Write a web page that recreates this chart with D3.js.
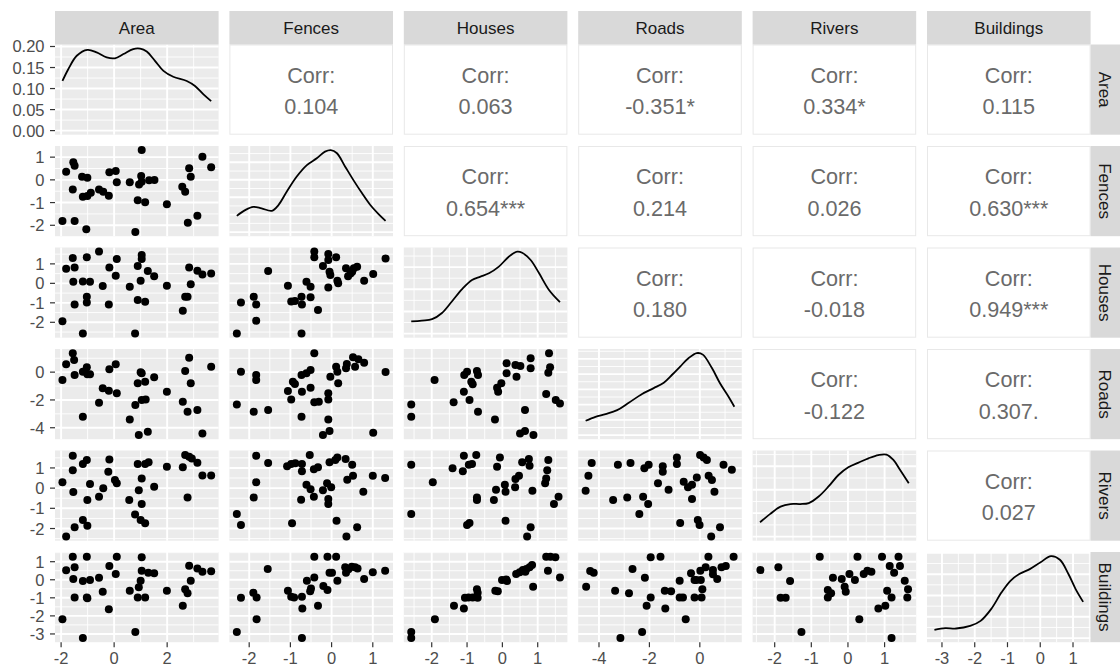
<!DOCTYPE html>
<html>
<head>
<meta charset="utf-8">
<script src="https://cdn.jsdelivr.net/npm/d3@7"></script>
<style>
    body { margin: 0; background: #ffffff; }
    svg { display: block; }
    text { font-family: "Liberation Sans", Arial, Helvetica, sans-serif; }
</style>
</head>
<body>
<div id="chart"></div>
<script>
/*
----------------------------------------------------
    Data
----------------------------------------------------
*/
const varNames = ["Area", "Fences", "Houses", "Roads", "Rivers", "Buildings"];
const varMin = [-1.95, -2.30, -2.58, -4.53, -2.40, -3.23];
const varMax = [3.66, 1.31, 1.63, 1.37, 1.66, 1.31];
const varBreaks = [[-2, 0, 2], [-2, -1, 0, 1], [-2, -1, 0, 1], [-4, -2, 0], [-2, -1, 0, 1], [-3, -2, -1, 0, 1]];
const areaDensityBreaks = [0, 0.05, 0.10, 0.15, 0.20];

// correlation labels of the upper panels: [row, col, label]
const corrLabels = [
    [0, 1, "0.104"], [0, 2, "0.063"], [0, 3, "-0.351*"], [0, 4, "0.334*"], [0, 5, "0.115"],
    [1, 2, "0.654***"], [1, 3, "0.214"], [1, 4, "0.026"], [1, 5, "0.630***"],
    [2, 3, "0.180"], [2, 4, "-0.018"], [2, 5, "0.949***"],
    [3, 4, "-0.122"], [3, 5, "0.307."],
    [4, 5, "0.027"]
];

// diagonal densities: [value, density]
const densityArea = [[-1.95, 0.118], [-1.73, 0.146], [-1.41, 0.178], [-1.01, 0.192], [-0.66, 0.186], [-0.28, 0.174], [0.03, 0.172], [0.35, 0.182], [0.72, 0.194], [0.98, 0.195], [1.23, 0.188], [1.54, 0.166], [1.86, 0.142], [2.23, 0.128], [2.74, 0.118], [3.05, 0.106], [3.37, 0.086], [3.66, 0.070]];
const densityFences = [[-2.30, 0.093], [-2.10, 0.126], [-1.90, 0.145], [-1.70, 0.136], [-1.45, 0.122], [-1.29, 0.155], [-1.09, 0.231], [-0.85, 0.317], [-0.60, 0.384], [-0.36, 0.423], [-0.16, 0.461], [-0.02, 0.470], [0.13, 0.452], [0.33, 0.375], [0.53, 0.298], [0.74, 0.222], [0.94, 0.155], [1.14, 0.103], [1.31, 0.064]];
const densityHouses = [[-2.58, 0.055], [-2.28, 0.059], [-1.99, 0.065], [-1.71, 0.093], [-1.43, 0.145], [-1.14, 0.201], [-0.86, 0.242], [-0.62, 0.257], [-0.38, 0.272], [-0.10, 0.302], [0.18, 0.347], [0.42, 0.370], [0.56, 0.365], [0.80, 0.332], [1.04, 0.272], [1.32, 0.197], [1.63, 0.142]];
const densityRoads = [[-4.53, 0.047], [-4.14, 0.060], [-3.74, 0.069], [-3.28, 0.082], [-2.82, 0.106], [-2.29, 0.135], [-1.83, 0.154], [-1.43, 0.172], [-1.10, 0.198], [-0.78, 0.225], [-0.44, 0.253], [-0.12, 0.269], [0.12, 0.264], [0.48, 0.220], [0.80, 0.170], [1.14, 0.126], [1.37, 0.093]];
const densityRivers = [[-2.40, 0.061], [-2.12, 0.097], [-1.84, 0.128], [-1.57, 0.139], [-1.30, 0.139], [-1.07, 0.143], [-0.80, 0.171], [-0.53, 0.214], [-0.26, 0.263], [0.01, 0.296], [0.29, 0.316], [0.56, 0.334], [0.83, 0.348], [1.05, 0.350], [1.24, 0.327], [1.42, 0.285], [1.66, 0.228]];
const densityBuildings = [[-3.23, 0.039], [-2.90, 0.047], [-2.57, 0.045], [-2.14, 0.057], [-1.82, 0.081], [-1.50, 0.136], [-1.18, 0.215], [-0.91, 0.269], [-0.64, 0.301], [-0.32, 0.324], [0.01, 0.356], [0.33, 0.385], [0.60, 0.368], [0.86, 0.301], [1.08, 0.230], [1.31, 0.170]];

// lower panels: [x value, y value]
const fencesArea = [[-1.95, -1.81], [-1.81, 0.36], [-1.54, 0.77], [-1.49, 0.62], [-1.49, -1.81], [-1.56, -0.42], [-1.21, 0.14], [-1.01, 0.09], [-1.18, -0.74], [-1.01, -0.71], [-0.88, -0.57], [-1.05, -2.18], [-0.57, -0.42], [-0.41, -0.52], [-0.20, -0.70], [-0.18, 0.33], [0.06, 0.39], [0.10, -0.11], [0.59, -0.11], [0.80, -2.30], [1.04, 1.31], [1.02, 0.17], [0.94, -0.20], [0.89, -0.90], [1.17, -0.99], [1.32, -0.02], [1.52, -0.01], [1.04, -0.08], [1.99, -1.07], [2.57, -0.30], [2.68, -0.52], [2.78, -1.89], [2.83, 0.51], [2.89, 0.14], [3.14, -1.58], [3.33, 1.02], [3.66, 0.55]];
const housesArea = [[-1.95, -1.94], [-1.81, 0.75], [-1.56, 1.30], [-1.49, 0.82], [-1.54, 0.08], [-1.49, -1.08], [-1.18, 0.10], [-1.03, 1.34], [-0.91, 0.08], [-1.03, -0.69], [-1.03, -0.98], [-0.57, 1.63], [-0.43, -0.14], [-0.20, -1.08], [-0.18, 0.82], [0.06, 0.39], [0.10, 1.25], [0.59, -0.18], [0.89, 0.89], [1.00, 0.13], [1.04, 1.45], [1.04, 1.25], [0.89, -0.86], [1.17, -0.95], [1.27, 0.63], [1.51, 0.37], [1.99, -0.12], [2.59, -1.41], [2.68, -0.69], [2.77, -0.69], [2.83, 0.82], [2.89, -0.04], [3.14, 0.65], [3.33, 0.46], [3.66, 0.51], [-1.18, -2.58], [0.79, -2.58]];
const roadsArea = [[-1.95, -0.57], [-1.81, 0.57], [-1.56, 1.36], [-1.51, 0.88], [-1.49, -0.20], [-1.18, -3.21], [-1.18, 0.03], [-1.03, 0.35], [-1.01, -0.15], [-0.91, -0.15], [-0.57, -2.20], [-0.43, -1.16], [-0.20, -1.34], [-0.18, 0.21], [0.06, 0.57], [0.10, -1.52], [0.59, -3.40], [0.80, -2.37], [0.89, -0.80], [1.00, -0.01], [1.04, -0.08], [1.17, -0.69], [1.04, -2.01], [1.19, -1.96], [0.93, -4.53], [1.27, -4.29], [1.51, -0.37], [1.99, -1.41], [2.59, -2.13], [2.68, 0.08], [2.77, -2.85], [2.83, 1.04], [2.89, -0.80], [3.14, -2.73], [3.33, -4.41], [3.66, 0.39]];
const riversArea = [[-1.56, 1.60], [-1.03, 1.39], [-1.18, 1.19], [-1.56, 0.89], [-1.95, 0.29], [-0.91, 0.20], [-0.18, 1.42], [-0.22, 0.81], [0.03, 0.40], [0.10, 0.24], [0.89, 1.19], [1.17, 1.19], [1.30, 1.28], [1.04, 0.48], [1.99, 1.06], [2.68, 1.64], [2.83, 1.55], [2.93, 1.47], [2.59, 1.03], [3.14, 1.26], [3.33, 0.63], [3.66, 0.63], [-0.41, -0.01], [0.93, -0.10], [1.51, 0.07], [-1.54, -0.19], [-0.57, -0.43], [-1.01, -0.59], [0.57, -0.59], [1.04, -0.79], [0.79, -1.30], [1.00, -1.58], [1.17, -1.74], [2.77, -0.46], [-1.18, -1.58], [-1.01, -1.86], [-1.49, -1.94], [-1.81, -2.40]];
const buildingsArea = [[-1.95, -2.18], [-1.81, 0.52], [-1.56, 1.28], [-1.49, 0.69], [-1.54, 0.04], [-1.49, -0.98], [-1.18, -3.23], [-1.03, 1.28], [-1.18, -0.07], [-0.91, -0.02], [-1.03, -0.98], [-1.01, -1.03], [-0.57, 0.11], [-0.43, -0.67], [-0.20, -1.63], [-0.18, 0.76], [0.06, 0.32], [0.10, 1.28], [0.59, -0.61], [0.80, -2.89], [0.89, -0.98], [0.93, -0.42], [1.00, -0.05], [1.04, 1.25], [1.04, 0.50], [1.17, -0.98], [1.29, 0.39], [1.51, 0.36], [1.99, -0.61], [2.59, -1.44], [2.68, -0.53], [2.77, -0.75], [2.83, 0.78], [2.89, -0.05], [3.14, 0.63], [3.33, 0.45], [3.66, 0.47]];
const housesFences = [[-2.30, -2.58], [-2.20, -0.98], [-1.89, -0.69], [-1.83, -1.08], [-1.83, -1.92], [-1.54, 0.63], [-1.06, -0.12], [-0.98, -0.93], [-0.89, -0.90], [-0.73, -0.69], [-0.72, -1.08], [-0.73, -2.58], [-0.61, 0.08], [-0.51, -0.18], [-0.51, -0.72], [-0.33, -1.37], [-0.42, 1.63], [-0.42, 1.34], [-0.21, 0.89], [-0.08, 1.51], [-0.08, 1.20], [0.11, 1.34], [-0.05, 0.60], [-0.03, 0.43], [0.14, 0.13], [0.16, 0.00], [-0.08, -0.21], [0.35, 0.77], [0.46, 0.51], [0.54, 0.77], [0.62, 0.85], [0.40, 0.37], [0.79, 0.13], [1.01, 0.48], [1.31, 1.28], [0.50, 0.60]];
const roadsFences = [[-2.30, -2.32], [-2.20, 0.03], [-1.89, -2.85], [-1.83, -0.20], [-1.83, -0.57], [-1.54, -2.73], [-1.06, -1.36], [-0.98, -1.96], [-0.94, -0.69], [-0.89, -0.85], [-0.73, -0.20], [-0.72, -1.41], [-0.73, -3.21], [-0.61, -0.08], [-0.51, 0.16], [-0.51, -1.12], [-0.42, 1.36], [-0.42, -2.17], [-0.31, -2.13], [-0.08, -1.52], [-0.08, -1.96], [-0.08, -3.40], [-0.21, -4.53], [-0.05, -4.24], [-0.03, -0.33], [0.11, 0.39], [0.14, 0.03], [0.16, -0.80], [0.35, 0.28], [0.37, 0.59], [0.52, 1.07], [0.57, 0.39], [0.65, 0.93], [0.79, 0.68], [1.01, -4.36], [1.31, 0.01]];
const riversFences = [[-2.30, -1.28], [-2.20, -1.83], [-1.89, -0.46], [-1.83, 0.29], [-1.83, 1.60], [-1.54, 1.24], [-1.08, 1.08], [-0.98, 1.19], [-0.88, 1.23], [-0.72, 1.19], [-0.72, 0.83], [-0.96, -1.74], [-0.74, -0.58], [-0.61, 0.17], [-0.53, 1.64], [-0.51, -0.05], [-0.43, 0.94], [-0.33, 1.03], [-0.43, -0.43], [-0.21, -0.10], [-0.11, 0.24], [-0.01, 0.04], [-0.08, -0.54], [-0.08, -0.79], [-0.05, 1.28], [0.09, 1.39], [0.14, 1.52], [0.34, 1.44], [0.50, 1.16], [0.38, 0.41], [0.52, 0.61], [0.12, -1.62], [0.36, -2.40], [0.62, -1.94], [0.77, -0.18], [1.00, 0.61], [1.30, 0.50]];
const buildingsFences = [[-2.30, -2.89], [-2.20, -1.00], [-1.90, -0.72], [-1.82, -0.98], [-1.82, -2.18], [-1.55, 0.60], [-1.06, -0.61], [-0.98, -0.94], [-0.91, -0.98], [-0.72, -0.94], [-0.71, -1.59], [-0.72, -3.23], [-0.60, -0.05], [-0.50, -0.48], [-0.52, -0.63], [-0.42, 0.13], [-0.42, 1.28], [-0.33, -1.44], [-0.20, -0.35], [-0.10, 1.28], [0.11, 1.28], [-0.10, -0.57], [-0.05, 0.39], [0.01, 0.39], [0.14, -0.05], [0.33, 0.69], [0.35, 0.39], [0.41, 0.58], [0.49, 0.72], [0.57, 0.69], [0.63, 0.63], [0.79, 0.04], [1.00, 0.41], [1.30, 0.50]];
const roadsHouses = [[-2.58, -2.32], [-2.58, -3.21], [-1.92, -0.57], [-1.38, -2.17], [-1.08, -0.20], [-1.00, 0.03], [-0.88, -0.69], [-0.84, -0.88], [-1.09, -1.41], [-0.93, -2.01], [-0.72, 0.08], [-0.69, -0.20], [-0.69, -2.85], [-0.21, -3.40], [-0.15, -1.12], [-0.12, -1.41], [-0.03, -0.80], [0.12, 0.64], [0.12, -0.08], [0.37, 0.52], [0.40, -0.33], [0.51, 0.44], [0.80, 1.00], [0.80, 0.28], [0.64, -2.73], [0.50, -4.41], [0.64, -4.24], [0.88, -4.53], [1.32, 1.36], [1.35, 0.35], [1.30, -0.04], [1.24, -1.57], [1.51, -2.01], [1.63, -2.25]];
const riversHouses = [[-2.58, 1.16], [-2.58, -1.28], [-1.97, 0.29], [-1.41, 0.99], [-1.12, 0.83], [-1.09, 1.60], [-0.95, 1.16], [-0.86, 1.19], [-0.74, 1.64], [-1.00, -1.83], [-0.93, -1.73], [-0.72, -0.46], [-0.72, -0.59], [-0.24, -0.59], [-0.18, -0.08], [-0.15, 1.06], [-0.07, 1.52], [0.07, 0.17], [0.09, -0.18], [0.09, -1.62], [0.36, 0.04], [0.37, 0.45], [0.47, 0.61], [0.56, 1.28], [0.75, 1.44], [0.77, 1.11], [0.85, -0.13], [0.80, -1.94], [0.70, -2.40], [1.21, 0.24], [1.24, 0.48], [1.27, 0.89], [1.30, 1.39], [1.59, -0.43], [1.46, -0.79]];
const buildingsHouses = [[-2.58, -2.89], [-2.58, -3.23], [-1.91, -2.18], [-1.37, -1.44], [-1.09, -1.59], [-1.06, -1.00], [-0.96, -0.98], [-0.84, -0.98], [-0.72, -0.53], [-0.70, -0.72], [-0.70, -1.00], [-0.20, -0.61], [-0.13, -0.63], [-0.01, -0.02], [0.11, 0.02], [0.13, -0.07], [0.39, 0.32], [0.49, 0.41], [0.58, 0.54], [0.68, 0.60], [0.77, 0.69], [0.84, 0.82], [0.87, -0.39], [1.24, 1.28], [1.36, 1.28], [1.50, 1.25], [1.29, 0.50], [1.63, 0.13], [0.65, 0.45]];
const riversRoads = [[-4.53, -0.13], [-4.42, 0.61], [-4.29, 1.24], [-3.44, -0.59], [-3.25, 1.16], [-2.88, -0.46], [-2.75, 1.24], [-2.40, -1.28], [-2.25, -0.43], [-2.05, -0.79], [-2.20, 0.99], [-2.03, 1.16], [-1.66, 0.24], [-1.47, 1.08], [-1.47, 0.81], [-1.24, -0.08], [-0.91, 1.52], [-0.91, 1.19], [-0.78, -1.73], [-0.64, 0.32], [-0.47, 0.04], [-0.31, -0.54], [-0.31, 0.17], [-0.12, 0.53], [-0.08, -1.58], [-0.01, -1.83], [0.01, 1.64], [0.15, 1.52], [0.28, 1.39], [0.35, 0.61], [0.48, 0.40], [0.58, -0.18], [0.45, -2.40], [0.80, -1.94], [0.94, 1.16], [1.27, 0.91]];
const buildingsRoads = [[-4.51, -0.39], [-4.35, 0.48], [-4.21, 0.39], [-3.36, -0.61], [-2.81, -0.75], [-3.15, -3.23], [-2.67, 0.60], [-2.18, 0.11], [-2.11, -1.44], [-1.95, -0.98], [-1.95, 1.25], [-2.29, -2.89], [-1.56, 1.28], [-1.39, -0.61], [-1.37, -1.59], [-1.14, -0.63], [-0.80, -0.05], [-0.80, -0.98], [-0.67, -0.98], [-0.56, -2.18], [-0.35, 0.36], [-0.21, -0.02], [-0.14, -0.02], [0.04, -0.02], [-0.21, -0.98], [0.07, -0.98], [0.10, -0.53], [0.02, 0.50], [0.23, 0.69], [0.34, 1.28], [0.52, 0.54], [0.52, 0.30], [0.69, 0.04], [0.86, 0.69], [1.03, 0.76], [1.34, 1.28]];
const buildingsRivers = [[-2.39, 0.54], [-1.90, 0.69], [-1.58, -0.07], [-1.84, -1.00], [-1.70, -1.00], [-1.27, -2.89], [-0.77, 1.28], [-0.55, -0.57], [-0.55, -0.98], [-0.46, -0.75], [-0.41, 0.11], [-0.17, 0.04], [-0.09, -0.39], [-0.06, -0.67], [0.04, 0.32], [0.19, -0.02], [0.26, 1.28], [0.31, -2.18], [0.43, 0.32], [0.53, 0.50], [0.64, 0.45], [0.83, -1.59], [0.93, 1.28], [1.02, -1.44], [1.07, -0.61], [1.14, 0.76], [1.19, -0.98], [1.19, -3.23], [1.26, 0.39], [1.38, 1.28], [1.42, 0.76], [1.55, -0.05], [1.64, -0.53], [1.62, -0.98]];

const densityList = [densityArea, densityFences, densityHouses, densityRoads, densityRivers, densityBuildings];
const scatterPanels = [
    [1, 0, fencesArea], [2, 0, housesArea], [3, 0, roadsArea], [4, 0, riversArea], [5, 0, buildingsArea],
    [2, 1, housesFences], [3, 1, roadsFences], [4, 1, riversFences], [5, 1, buildingsFences],
    [3, 2, roadsHouses], [4, 2, riversHouses], [5, 2, buildingsHouses],
    [4, 3, riversRoads], [5, 3, buildingsRoads],
    [5, 4, buildingsRivers]
];

/*
----------------------------------------------------
    Layout
----------------------------------------------------
*/
const width = 1120, height = 671;
const left0 = 55, top0 = 44.5;
const panelW = 163.6, panelH = 90.2;
const stepX = 174.4, stepY = 101.5;
const stripH = 33.5, stripW = 30;

const colX = j => left0 + j * stepX;
const rowY = i => top0 + i * stepY;

// ggplot style 5% expansion of the data range
function expand(lo, hi) {
    const r = hi - lo;
    return [lo - 0.05 * r, hi + 0.05 * r];
}

// minor breaks half way between the major ones
function minorBreaks(breaks, domain) {
    const step = breaks[1] - breaks[0];
    const out = [];
    for (let k = -1; k <= breaks.length; k++) {
        const v = breaks[0] + (k + 0.5) * step;
        if (v >= domain[0] && v <= domain[1]) out.push(v);
    }
    return out;
}

const xScales = varNames.map((v, j) => d3.scaleLinear()
    .domain(expand(varMin[j], varMax[j]))
    .range([colX(j), colX(j) + panelW]));

const yScales = varNames.map((v, i) => d3.scaleLinear()
    .domain(expand(varMin[i], varMax[i]))
    .range([rowY(i) + panelH, rowY(i)]));

const densityScales = densityList.map((d, i) => {
    const M = d3.max(d, p => p[1]);
    return d3.scaleLinear().domain([-0.05 * M, 1.05 * M]).range([rowY(i) + panelH, rowY(i)]);
});

const svg = d3.select("#chart")
    .append("svg")
    .attr("width", width)
    .attr("height", height);

// Draw the grey panel with major and minor grid lines
function drawGrid(i, j, xs, ys, xMajor, yMajor) {
    const g = svg.append("g");
    const x0 = colX(j), y0 = rowY(i);
    g.append("rect")
        .attr("x", x0).attr("y", y0)
        .attr("width", panelW).attr("height", panelH)
        .attr("fill", "#EBEBEB");

    const xMinor = minorBreaks(xMajor, xs.domain());
    const yMinor = minorBreaks(yMajor, ys.domain());

    g.selectAll(".vminor").data(xMinor).enter().append("line")
        .attr("x1", d => xs(d)).attr("x2", d => xs(d))
        .attr("y1", y0).attr("y2", y0 + panelH)
        .attr("stroke", "#ffffff").attr("stroke-width", 0.9);
    g.selectAll(".hminor").data(yMinor).enter().append("line")
        .attr("x1", x0).attr("x2", x0 + panelW)
        .attr("y1", d => ys(d)).attr("y2", d => ys(d))
        .attr("stroke", "#ffffff").attr("stroke-width", 0.9);
    g.selectAll(".vmajor").data(xMajor.filter(d => d >= xs.domain()[0] && d <= xs.domain()[1])).enter().append("line")
        .attr("x1", d => xs(d)).attr("x2", d => xs(d))
        .attr("y1", y0).attr("y2", y0 + panelH)
        .attr("stroke", "#ffffff").attr("stroke-width", 1.9);
    g.selectAll(".hmajor").data(yMajor.filter(d => d >= ys.domain()[0] && d <= ys.domain()[1])).enter().append("line")
        .attr("x1", x0).attr("x2", x0 + panelW)
        .attr("y1", d => ys(d)).attr("y2", d => ys(d))
        .attr("stroke", "#ffffff").attr("stroke-width", 1.9);
}

/*
----------------------------------------------------
    Diagonal: densities
----------------------------------------------------
*/
densityList.forEach((dens, i) => {
    const xs = xScales[i], ys = densityScales[i];
    const yMajor = i === 0 ? areaDensityBreaks : ys.ticks(5);
    drawGrid(i, i, xs, ys, varBreaks[i], yMajor);

    const line = d3.line()
        .x(d => xs(d[0]))
        .y(d => ys(d[1]))
        .curve(d3.curveCatmullRom.alpha(0.5));

    svg.append("path")
        .datum(dens)
        .attr("d", line)
        .attr("fill", "none")
        .attr("stroke", "#000000")
        .attr("stroke-width", 1.8);
});

/*
----------------------------------------------------
    Lower triangle: scatter plots
----------------------------------------------------
*/
scatterPanels.forEach(([i, j, pts]) => {
    const xs = xScales[j], ys = yScales[i];
    drawGrid(i, j, xs, ys, varBreaks[j], varBreaks[i]);

    svg.append("g").selectAll("circle")
        .data(pts)
        .enter()
        .append("circle")
        .attr("cx", d => xs(d[0]))
        .attr("cy", d => ys(d[1]))
        .attr("r", 4)
        .attr("fill", "#000000");
});

/*
----------------------------------------------------
    Upper triangle: correlation text
----------------------------------------------------
*/
corrLabels.forEach(([i, j, label]) => {
    const x0 = colX(j), y0 = rowY(i);
    svg.append("rect")
        .attr("x", x0 + 0.5).attr("y", y0 + 0.5)
        .attr("width", panelW - 1).attr("height", panelH - 1)
        .attr("fill", "#ffffff")
        .attr("stroke", "#E8E8E8")
        .attr("stroke-width", 1);

    svg.append("text")
        .attr("x", x0 + panelW / 2)
        .attr("y", y0 + 38)
        .attr("text-anchor", "middle")
        .style("font-size", "21.6px")
        .style("fill", "#6a6a6a")
        .text("Corr:");

    svg.append("text")
        .attr("x", x0 + panelW / 2)
        .attr("y", y0 + 69.5)
        .attr("text-anchor", "middle")
        .style("font-size", "21.6px")
        .style("fill", "#6a6a6a")
        .text(label);
});

/*
----------------------------------------------------
    Strips
----------------------------------------------------
*/
varNames.forEach((name, j) => {
    svg.append("rect")
        .attr("x", colX(j)).attr("y", top0 - stripH)
        .attr("width", panelW).attr("height", stripH)
        .attr("fill", "#D9D9D9");
    svg.append("text")
        .attr("x", colX(j) + panelW / 2)
        .attr("y", top0 - 10.3)
        .attr("text-anchor", "middle")
        .style("font-size", "17px")
        .style("fill", "#1A1A1A")
        .text(name);
});

varNames.forEach((name, i) => {
    const xr = colX(5) + panelW;
    svg.append("rect")
        .attr("x", xr).attr("y", rowY(i))
        .attr("width", stripW).attr("height", panelH)
        .attr("fill", "#D9D9D9");
    svg.append("text")
        .attr("transform", "translate(" + (xr + 8.5) + "," + (rowY(i) + panelH / 2) + ") rotate(90)")
        .attr("text-anchor", "middle")
        .style("font-size", "17px")
        .style("fill", "#1A1A1A")
        .text(name);
});

/*
----------------------------------------------------
    Axes
----------------------------------------------------
*/
const tickLen = 5;

// left axis, one per row
varNames.forEach((name, i) => {
    const ys = i === 0 ? densityScales[0] : yScales[i];
    const breaks = i === 0 ? areaDensityBreaks : varBreaks[i];
    const fmt = i === 0 ? d3.format(".2f") : d3.format("d");
    const g = svg.append("g");
    g.selectAll("line").data(breaks).enter().append("line")
        .attr("x1", left0 - tickLen).attr("x2", left0)
        .attr("y1", d => ys(d)).attr("y2", d => ys(d))
        .attr("stroke", "#333333").attr("stroke-width", 1.2);
    g.selectAll("text").data(breaks).enter().append("text")
        .attr("x", left0 - tickLen - 5.5)
        .attr("y", d => ys(d) + 6)
        .attr("text-anchor", "end")
        .style("font-size", "16.5px")
        .style("fill", "#4D4D4D")
        .text(d => fmt(d).replace("−", "-"));
});

// bottom axis, one per column
varNames.forEach((name, j) => {
    const xs = xScales[j];
    const yb = rowY(5) + panelH;
    const g = svg.append("g");
    g.selectAll("line").data(varBreaks[j]).enter().append("line")
        .attr("x1", d => xs(d)).attr("x2", d => xs(d))
        .attr("y1", yb).attr("y2", yb + tickLen)
        .attr("stroke", "#333333").attr("stroke-width", 1.2);
    g.selectAll("text").data(varBreaks[j]).enter().append("text")
        .attr("x", d => xs(d))
        .attr("y", yb + 21.5)
        .attr("text-anchor", "middle")
        .style("font-size", "16.5px")
        .style("fill", "#4D4D4D")
        .text(d => d3.format("d")(d).replace("−", "-"));
});
</script>
</body>
</html>
